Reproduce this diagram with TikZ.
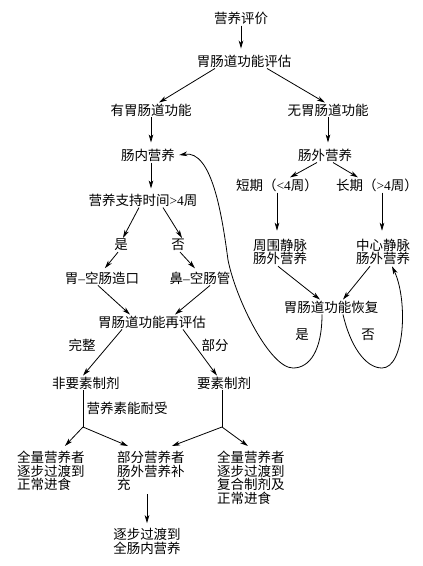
\documentclass[tikz,border=0pt]{standalone}
\usepackage{fontspec}
\setmainfont{Liberation Serif}
\newfontfamily\cjk{Noto Sans CJK SC}
\newcommand\latpart[1]{{\rmfamily #1}}
\usetikzlibrary{arrows.meta}
\begin{document}
\begin{tikzpicture}[x=1pt,y=-1pt,
  every node/.style={font=\cjk\fontsize{13.5}{13.6}\selectfont, inner sep=1pt, text=black},
  box/.style={},
  blk/.style={align=left, anchor=north west, inner sep=0pt},
  lbl/.style={},
  arr/.style={-{Stealth[length=8pt,width=4.6pt,inset=2.2pt]}, line width=0.8pt},
  ln/.style={line width=0.8pt}]
\useasboundingbox[fill=white] (0,0) rectangle (423,566);

\node[box] (n1) at (241,18) {营养评价};
\node[box] (n2) at (244,61) {胃肠道功能评估};
\node[box] (n3) at (151,110) {有胃肠道功能};
\node[box] (n4) at (328,110) {无胃肠道功能};
\node[box] (n5) at (148,155) {肠内营养};
\node[box] (n6) at (325,155) {肠外营养};
\node[box] (n7) at (143,200) {营养支持时间\latpart{>4}周};
\node[box] (n8) at (277,185) {短期（\latpart{<4}周）};
\node[box] (n9) at (377,185) {长期（\latpart{>4}周）};
\node[box] (n10) at (121,245) {是};
\node[box] (n11) at (178,245) {否};
\node[box] (n12) at (102,278) {胃\latpart{–}空肠造口};
\node[box] (n13) at (200,278) {鼻\latpart{–}空肠管};
\node[box] (n14) at (152,322) {胃肠道功能再评估};
\node[lbl] (l1) at (82,345) {完整};
\node[lbl] (l2) at (215,345) {部分};
\node[box] (n16) at (86,383) {非要素制剂};
\node[box] (n17) at (224,383) {要素制剂};
\node[box, align=center] (n18) at (280,252) {周围静脉\\肠外营养};
\node[box, align=center] (n19) at (383,252) {中心静脉\\肠外营养};
\node[box] (n20) at (331,307) {胃肠道功能恢复};
\node[lbl] (l3) at (302,335) {是};
\node[lbl] (l4) at (368,335) {否};
\node[lbl] (l5) at (127,408) {营养素能耐受};
\coordinate (j1) at (83,427);
\coordinate (j2) at (222,427);
\node[blk] (n21) at (17,451) {全量营养者\\逐步过渡到\\正常进食};
\node[blk] (n22) at (117,451) {部分营养者\\肠外营养补\\充};
\node[blk] (n23) at (217,451) {全量营养者\\逐步过渡到\\复合制剂及\\正常进食};
\node[box, align=left] (n24) at (147,541.5) {逐步过渡到\\全肠内营养};

% arrows
\draw[arr, shorten >=5pt] (n1.south) -- (n1.south |- n2.north);
\draw[arr] ([xshift=-29pt]n2.south) -- ([xshift=8pt]n3.north);
\draw[arr] ([xshift=23pt]n2.south) -- ([xshift=-3pt]n4.north);
\draw[arr, shorten >=5pt] (n3.south) -- (n3.south |- n5.north);
\draw[arr, shorten >=5pt] (n4.south) -- (n4.south |- n6.north);
\draw[arr, shorten >=4pt] ([xshift=3pt]n5.south) -- ([xshift=3pt]n5.south |- n7.north);
\draw[arr] ([xshift=-8pt]n6.south) -- ([xshift=13pt]n8.north);
\draw[arr] ([xshift=8pt]n6.south) -- ([xshift=-19pt]n9.north);
\draw[arr, shorten >=7pt] (n8.south) -- (n8.south |- n18.north);
\draw[arr, shorten >=7pt] ([xshift=5pt]n9.south) -- ([xshift=5pt]n9.south |- n19.north);
\draw[arr] ([xshift=-4pt]n7.south) -- ([xshift=2pt]n10.north);
\draw[arr] ([xshift=20pt]n7.south) -- ([xshift=4pt]n11.north);
\draw[arr, shorten >=3pt] ([xshift=-3pt]n10.south) -- ([xshift=1pt]n12.north);
\draw[arr, shorten >=3pt] ([xshift=2pt]n11.south) -- ([xshift=-3pt]n13.north);
\draw[arr] ([xshift=-4pt]n12.south) -- ([xshift=-22pt]n14.north);
\draw[arr] ([xshift=10pt]n13.south) -- ([xshift=23pt]n14.north);
\draw[arr] ([xshift=-30pt]n14.south) -- ([xshift=-3pt]n16.north);
\draw[arr] ([xshift=31pt]n14.south) -- ([xshift=-7pt]n17.north);
\draw[arr] ([xshift=-2pt]n18.south) -- ([xshift=-11pt]n20.north);
\draw[arr] ([xshift=-13pt]n19.south) -- ([xshift=12pt]n20.north);
\draw[ln] ([xshift=-3pt]n16.south) -- (j1);
\draw[arr] (j1) -- ([xshift=14pt,yshift=5pt]n21.north);
\draw[arr] (j1) -- ([xshift=-23pt,yshift=5pt]n22.north);
\draw[ln] ([xshift=-2pt]n17.south) -- (j2);
\draw[arr] (j2) -- ([xshift=21pt,yshift=5pt]n22.north);
\draw[arr] (j2) -- ([xshift=-3pt,yshift=5pt]n23.north);
\draw[arr, shorten <=3pt, shorten >=4pt] (n24.north |- n22.south) -- (n24.north);

% feedback curves
\draw[arr] ([xshift=-9pt]n20.south) .. controls (322,350) and (310,368) .. (293,368)
  .. controls (270,368) and (236,300) .. (228,260)
  .. controls (222,215) and (212,150) .. ([xshift=3pt]n5.east);
\draw[arr] ([xshift=12pt]n20.south) .. controls (350,345) and (365,368) .. (382,368)
  .. controls (405,368) and (408,300) .. ([xshift=9pt]n19.south);
\end{tikzpicture}
\end{document}
